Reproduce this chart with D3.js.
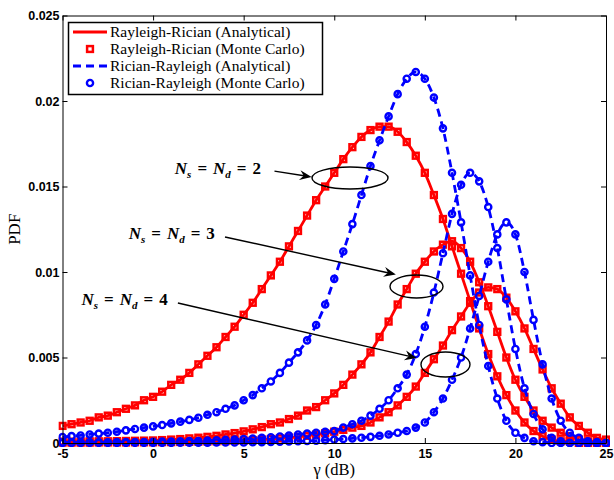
<!DOCTYPE html>
<html>
<head>
<meta charset="utf-8">
<script src="https://cdn.jsdelivr.net/npm/d3@7"></script>
<style>
body { margin: 0; background: #fff; }
</style>
</head>
<body>
<div id="chart"></div>
<script>
// SNR grid in dB (one Monte Carlo point every 0.5 dB)
const gammaDb = [-5, -4.5, -4, -3.5, -3, -2.5, -2, -1.5, -1, -0.5,
    0, 0.5, 1, 1.5, 2, 2.5, 3, 3.5, 4, 4.5,
    5, 5.5, 6, 6.5, 7, 7.5, 8, 8.5, 9, 9.5,
    10, 10.5, 11, 11.5, 12, 12.5, 13, 13.5, 14, 14.5,
    15, 15.5, 16, 16.5, 17, 17.5, 18, 18.5, 19, 19.5,
    20, 20.5, 21, 21.5, 22, 22.5, 23, 23.5, 24, 24.5,
    25];

// Rayleigh-Rician PDF, Ns = Nd = 2, 3, 4
const rayRic2 = [0.0010, 0.0011, 0.0012, 0.0013, 0.0015, 0.0016, 0.0018, 0.0020, 0.0022, 0.0025,
    0.0027, 0.0030, 0.0034, 0.0037, 0.0041, 0.0046, 0.0051, 0.0056, 0.0062, 0.0068,
    0.0075, 0.0082, 0.0090, 0.0098, 0.0106, 0.0115, 0.0124, 0.0133, 0.0142, 0.0150,
    0.0158, 0.0166, 0.0173, 0.0179, 0.0183, 0.0185, 0.0185, 0.0182, 0.0176, 0.0168,
    0.0158, 0.0145, 0.0131, 0.0115, 0.0099, 0.0083, 0.0067, 0.0052, 0.0039, 0.0028,
    0.0019, 0.0012, 0.0007, 0.0004, 0.0002, 0.0001, 0.0001, 0, 0, 0,
    0];
const rayRic3 = [0.00008, 0.00008, 0.00009, 0.0001, 0.0001, 0.0001, 0.00011, 0.00012, 0.00013, 0.00014,
    0.00015, 0.00017, 0.0002, 0.00023, 0.00027, 0.00031, 0.00036, 0.00042, 0.0005, 0.00058,
    0.00068, 0.0008, 0.00093, 0.0011, 0.0012, 0.0014, 0.0016, 0.0019, 0.0021, 0.0025,
    0.0029, 0.0034, 0.0040, 0.0046, 0.0053, 0.0062, 0.0071, 0.0081, 0.0090, 0.0099,
    0.0106, 0.0112, 0.0116, 0.0118, 0.0114, 0.0106, 0.0094, 0.0080, 0.0065, 0.0050,
    0.0037, 0.0027, 0.0019, 0.0013, 0.0009, 0.0006, 0.0004, 0.0002, 0.0001, 0.0001,
    0];
const rayRic4 = [0.00002, 0.00002, 0.00002, 0.00002, 0.00003, 0.00003, 0.00003, 0.00003, 0.00004, 0.00004,
    0.00004, 0.00005, 0.00005, 0.00006, 0.00007, 0.00008, 0.00009, 0.0001, 0.00011, 0.00013,
    0.00015, 0.00017, 0.0002, 0.00023, 0.00027, 0.00031, 0.00036, 0.00042, 0.00049, 0.00057,
    0.00066, 0.00077, 0.0009, 0.0010, 0.0012, 0.0015, 0.0018, 0.0022, 0.0027, 0.0033,
    0.0041, 0.0049, 0.0057, 0.0066, 0.0074, 0.0082, 0.0088, 0.0091, 0.0090, 0.0085,
    0.0077, 0.0067, 0.0055, 0.0043, 0.0032, 0.0023, 0.0015, 0.0010, 0.0006, 0.0003,
    0.0002];

// Rician-Rayleigh PDF, Ns = Nd = 2, 3, 4
const ricRay2 = [0.00035, 0.0004, 0.00044, 0.0005, 0.00055, 0.0006, 0.00066, 0.00074, 0.00082, 0.0009,
    0.00097, 0.00105, 0.00115, 0.00125, 0.00135, 0.00148, 0.00165, 0.0018, 0.002, 0.0022,
    0.0025, 0.0028, 0.0032, 0.0036, 0.0041, 0.0047, 0.0053, 0.0060, 0.0069, 0.0081,
    0.0096, 0.0112, 0.0128, 0.0145, 0.0162, 0.0177, 0.0191, 0.0204, 0.0213, 0.0217,
    0.0213, 0.0202, 0.0184, 0.0158, 0.0129, 0.0098, 0.0069, 0.0045, 0.0026, 0.0013,
    0.0006, 0.0003, 0.0001, 0.00005, 0, 0, 0, 0, 0, 0,
    0];
const ricRay3 = [0.00003, 0.00003, 0.00003, 0.00004, 0.00004, 0.00004, 0.00005, 0.00005, 0.00006, 0.00006,
    0.00007, 0.00008, 0.00009, 0.0001, 0.00011, 0.00012, 0.00014, 0.00016, 0.00018, 0.0002,
    0.00023, 0.00026, 0.0003, 0.00034, 0.00038, 0.00043, 0.0005, 0.00055, 0.0006, 0.00065,
    0.0007, 0.0009, 0.0011, 0.0013, 0.0016, 0.0020, 0.0025, 0.0032, 0.0040, 0.0052,
    0.0068, 0.0088, 0.0111, 0.0134, 0.0151, 0.0158, 0.0153, 0.0138, 0.0114, 0.0084,
    0.0055, 0.0032, 0.0017, 0.0008, 0.0003, 0.0001, 0, 0, 0, 0,
    0];
const ricRay4 = [0.00001, 0.00001, 0.00001, 0.00001, 0.00001, 0.00001, 0.00001, 0.00001, 0.00001, 0.00001,
    0.00001, 0.00001, 0.00001, 0.00002, 0.00002, 0.00002, 0.00002, 0.00003, 0.00003, 0.00003,
    0.00003, 0.00004, 0.00005, 0.00006, 0.00007, 0.00009, 0.0001, 0.00012, 0.00014, 0.00017,
    0.0002, 0.00023, 0.00027, 0.00031, 0.00036, 0.00042, 0.0005, 0.0006, 0.0007, 0.0009,
    0.0012, 0.0018, 0.0026, 0.0037, 0.0050, 0.0067, 0.0086, 0.0106, 0.0122, 0.0129,
    0.0122, 0.0100, 0.0072, 0.0046, 0.0026, 0.0013, 0.0006, 0.0003, 0.0001, 0.00005,
    0];

const xTicks = [-5, 0, 5, 10, 15, 20, 25];
const yTicks = [0, 0.005, 0.01, 0.015, 0.02, 0.025];
const yTickLabels = ["0", "0.005", "0.01", "0.015", "0.02", "0.025"];
const legendLabels = ["Rayleigh-Rician (Analytical)", "Rayleigh-Rician (Monte Carlo)",
    "Rician-Rayleigh (Analytical)", "Rician-Rayleigh (Monte Carlo)"];

// annotation groups: text anchor, arrow tail, arrow tip, ellipse centre (data units)
const groupN = ["2", "3", "4"];
const labelAt = [[1.2, 0.0160], [-1.35, 0.01222], [-3.95, 0.00836]];
const arrowFrom = [[6.7, 0.0159], [3.97, 0.01205], [1.37, 0.00819]];
const arrowTo = [[8.75, 0.01556], [13.4, 0.00985], [14.55, 0.00497]];
const ringAt = [[10.87, 0.0155], [14.54, 0.00915], [16.14, 0.00459]];

class PdfChart {
    constructor(){
        this.width = 614;
        this.height = 480;
        this.left = 62.5;
        this.right = 606;
        this.top = 15.5;
        this.bottom = 443;
        this.red = "#ff0000";
        this.blue = "#0000ff";
        this.tickFont = "'Liberation Sans', Arial, sans-serif";
        this.textFont = "'Liberation Serif', 'Times New Roman', serif";
    }

    init(){
        this.xScale = d3.scaleLinear().domain([-5, 25]).range([this.left, this.right]);
        this.yScale = d3.scaleLinear().domain([0, 0.025]).range([this.bottom, this.top]);

        this.svg = d3.select("#chart")
            .append("svg")
            .attr("width", this.width)
            .attr("height", this.height);

        this.svg.append("defs").append("clipPath")
            .attr("id", "plot-clip")
            .append("rect")
            .attr("x", this.left - 4).attr("y", this.top)
            .attr("width", this.right - this.left + 8)
            .attr("height", this.bottom - this.top + 4);
    }

    drawAxes(){
        const x = this.xScale, y = this.yScale;
        const fmtY = d => yTickLabels[yTicks.indexOf(d)];

        const gx = this.svg.append("g")
            .attr("transform", "translate(0," + this.bottom + ")")
            .call(d3.axisBottom(x).tickValues(xTicks).tickFormat(d => String(d))
                .tickSize(-5).tickSizeOuter(0).tickPadding(6));
        const gy = this.svg.append("g")
            .attr("transform", "translate(" + this.left + ",0)")
            .call(d3.axisLeft(y).tickValues(yTicks).tickFormat(fmtY)
                .tickSize(-5).tickSizeOuter(0).tickPadding(3));
        this.svg.append("g")
            .attr("transform", "translate(0," + this.top + ")")
            .call(d3.axisTop(x).tickValues(xTicks).tickFormat("").tickSize(-5).tickSizeOuter(0));
        this.svg.append("g")
            .attr("transform", "translate(" + this.right + ",0)")
            .call(d3.axisRight(y).tickValues(yTicks).tickFormat("").tickSize(-5).tickSizeOuter(0));

        this.svg.selectAll(".tick line, .domain").attr("stroke", "#000").attr("stroke-width", 1);
        [gx, gy].forEach(g => g.selectAll("text")
            .attr("fill", "#000")
            .style("font-family", this.tickFont)
            .style("font-weight", "bold")
            .style("font-size", "12.5px"));

        this.svg.append("text")
            .attr("x", (this.left + this.right) / 2)
            .attr("y", 475)
            .attr("text-anchor", "middle")
            .style("font-family", this.textFont)
            .style("font-size", "16.5px")
            .text("\u03b3 (dB)");

        this.svg.append("text")
            .attr("transform", "translate(20," + ((this.top + this.bottom) / 2) + ") rotate(-90)")
            .attr("text-anchor", "middle")
            .style("font-family", this.textFont)
            .style("font-size", "17px")
            .text("PDF");
    }

    drawCurves(){
        const x = this.xScale, y = this.yScale;
        const plot = this.svg.append("g").attr("clip-path", "url(#plot-clip)");
        const line = d3.line()
            .x(d => x(d[0]))
            .y(d => y(d[1]))
            .curve(d3.curveMonotoneX);
        const pts = vals => gammaDb.map((g, i) => [g, vals[i]]);

        const redSets = [rayRic2, rayRic3, rayRic4].map(pts);
        const blueSets = [ricRay2, ricRay3, ricRay4].map(pts);

        plot.selectAll("path.red").data(redSets).enter()
            .append("path").attr("class", "red")
            .attr("d", line)
            .attr("fill", "none")
            .attr("stroke", this.red)
            .attr("stroke-width", 2.8);

        redSets.forEach(set => {
            plot.append("g").selectAll("rect").data(set).enter()
                .append("rect")
                .attr("x", d => x(d[0]) - 2.9)
                .attr("y", d => y(d[1]) - 2.9)
                .attr("width", 5.8)
                .attr("height", 5.8)
                .attr("fill", "none")
                .attr("stroke", this.red)
                .attr("stroke-width", 2.5);
        });

        plot.selectAll("path.blue").data(blueSets).enter()
            .append("path").attr("class", "blue")
            .attr("d", line)
            .attr("fill", "none")
            .attr("stroke", this.blue)
            .attr("stroke-width", 2.8)
            .attr("stroke-dasharray", "8,5");

        blueSets.forEach(set => {
            plot.append("g").selectAll("circle").data(set).enter()
                .append("circle")
                .attr("cx", d => x(d[0]))
                .attr("cy", d => y(d[1]))
                .attr("r", 3.1)
                .attr("fill", "none")
                .attr("stroke", this.blue)
                .attr("stroke-width", 2.4);
        });
    }

    drawNotes(){
        const x = this.xScale, y = this.yScale;
        const ringR = [[38, 11], [26.5, 11.5], [24.5, 12.5]];
        const g = this.svg.append("g");

        groupN.forEach((n, i) => {
            const t = g.append("text")
                .attr("x", x(labelAt[i][0]))
                .attr("y", y(labelAt[i][1]) + 5)
                .style("font-family", this.textFont)
                .style("font-size", "17px")
                .style("font-weight", "bold");
            t.append("tspan").style("font-style", "italic").text("N");
            t.append("tspan").attr("dy", 4).style("font-style", "italic").style("font-size", "11px").text("s");
            t.append("tspan").attr("dy", -4).attr("dx", 6).text("=");
            t.append("tspan").attr("dx", 6).style("font-style", "italic").text("N");
            t.append("tspan").attr("dy", 4).style("font-style", "italic").style("font-size", "11px").text("d");
            t.append("tspan").attr("dy", -4).attr("dx", 6).text("=");
            t.append("tspan").attr("dx", 6).text(n);

            const x0 = x(arrowFrom[i][0]), y0 = y(arrowFrom[i][1]);
            const x1 = x(arrowTo[i][0]), y1 = y(arrowTo[i][1]);
            const ang = Math.atan2(y1 - y0, x1 - x0);
            g.append("line")
                .attr("x1", x0).attr("y1", y0)
                .attr("x2", x1 - 6 * Math.cos(ang)).attr("y2", y1 - 6 * Math.sin(ang))
                .attr("stroke", "#000").attr("stroke-width", 1.4);
            const head = [[0, 0], [-12, -5], [-8, 0], [-12, 5]];
            g.append("path")
                .attr("d", "M" + head.map(p => p.join(",")).join("L") + "Z")
                .attr("transform", "translate(" + x1 + "," + y1 + ") rotate(" + (ang * 180 / Math.PI) + ")")
                .attr("fill", "#000");

            g.append("ellipse")
                .attr("cx", x(ringAt[i][0]))
                .attr("cy", y(ringAt[i][1]))
                .attr("rx", ringR[i][0])
                .attr("ry", ringR[i][1])
                .attr("fill", "none")
                .attr("stroke", "#000")
                .attr("stroke-width", 1.4);
        });
    }

    drawLegend(){
        const g = this.svg.append("g");
        g.append("rect")
            .attr("x", 68.5).attr("y", 22.5)
            .attr("width", 254).attr("height", 72)
            .attr("fill", "#fff")
            .attr("stroke", "#000")
            .attr("stroke-width", 1.5);

        const rows = g.selectAll("g.row").data(legendLabels).enter()
            .append("g").attr("class", "row")
            .attr("transform", (d, i) => "translate(0," + (32 + i * 17) + ")");

        rows.append("text")
            .attr("x", 110)
            .attr("y", 5)
            .style("font-family", this.textFont)
            .style("font-size", "15.5px")
            .text(d => d);

        rows.filter((d, i) => i === 0).append("line")
            .attr("x1", 73).attr("x2", 107)
            .attr("stroke", this.red).attr("stroke-width", 2.8);
        rows.filter((d, i) => i === 1).append("rect")
            .attr("x", 87.1).attr("y", -2.9).attr("width", 5.8).attr("height", 5.8)
            .attr("fill", "none").attr("stroke", this.red).attr("stroke-width", 2.5);
        rows.filter((d, i) => i === 2).append("line")
            .attr("x1", 73).attr("x2", 107)
            .attr("stroke", this.blue).attr("stroke-width", 2.8)
            .attr("stroke-dasharray", "8,5");
        rows.filter((d, i) => i === 3).append("circle")
            .attr("cx", 90).attr("r", 3.1)
            .attr("fill", "none").attr("stroke", this.blue).attr("stroke-width", 2.4);
    }

    draw(){
        this.drawCurves();
        this.drawAxes();
        this.drawNotes();
        this.drawLegend();
    }
}

const chart = new PdfChart();
chart.init();
chart.draw();
</script>
</body>
</html>
